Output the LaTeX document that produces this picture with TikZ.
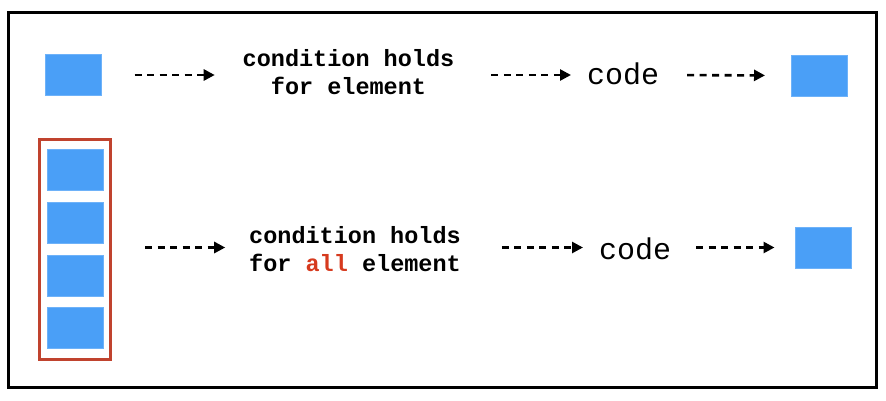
\documentclass[tikz,border=0pt]{standalone}
\usepackage{fontspec}
\newfontfamily\monofont{Liberation Mono}
\usetikzlibrary{arrows.meta,fit}
\definecolor{sqblue}{HTML}{4A9FF7}
\definecolor{boxred}{HTML}{C0432E}
\definecolor{allred}{HTML}{D63A1E}
\tikzset{
  sq/.style={fill=sqblue, draw=sqblue!80!white, line width=0.6pt, minimum width=56pt, minimum height=41pt, inner sep=0pt, outer sep=0pt},
  cond/.style={font=\monofont\bfseries\fontsize{23.5}{28.5}\selectfont, align=center, inner sep=0pt, outer sep=0pt},
  codetxt/.style={font=\monofont\fontsize{30}{34}\selectfont, inner sep=0pt, outer sep=0pt},
  arr/.style={line width=2.6pt, dash pattern=on 7pt off 5.5pt, -{Triangle[length=11pt,width=11pt]}},
}
\begin{document}
\begin{tikzpicture}[x=1pt,y=-1pt]
\useasboundingbox (0,0) rectangle (886,400);
\draw[line width=3pt] (8.5,12.5) rectangle (876,387);
% top row
\node[sq] (s1) at (73.5,75) {};
\node[cond] (t1) at (348.5,72) {condition holds\\for element};
\node[codetxt] (c1) at (623,74) {code};
\node[sq] (s2) at (819,75.5) {};
\draw[arr, shorten <=33pt, shorten >=28pt] (s1.east) -- (s1.east -| t1.west);
\draw[arr, shorten <=37pt, shorten >=16pt] (t1.east |- s1.east) -- (s1.east -| c1.west);
\draw[arr, shorten <=28pt, shorten >=26pt] (c1.east |- s1.east) -- (s2.west);
% bottom row
\node[sq] (b1) at (75,170) {};
\node[sq] (b2) at (75,223) {};
\node[sq] (b3) at (75,275.5) {};
\node[sq] (b4) at (75,328) {};
\node[draw=boxred, line width=3pt, inner xsep=7.5pt, inner ysep=10.5pt, fit=(b1)(b4)] (col) {};
\node[cond] (t2) at (355,249) {condition holds\\for {\color{allred}all} element};
\node[codetxt] (c2) at (635,249) {code};
\node[sq] (s3) at (823.5,247.5) {};
\draw[arr, shorten <=33pt, shorten >=24pt] (col.east |- s3.west) -- (s3.west -| t2.west);
\draw[arr, shorten <=41pt, shorten >=16pt] (t2.east |- s3.west) -- (s3.west -| c2.west);
\draw[arr, shorten <=25pt, shorten >=21pt] (c2.east |- s3.west) -- (s3.west);
\end{tikzpicture}
\end{document}
